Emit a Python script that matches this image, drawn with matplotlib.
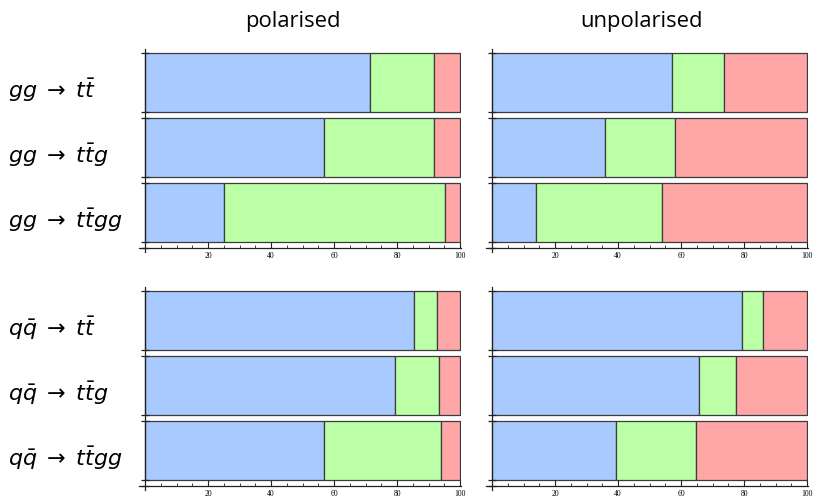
import matplotlib
matplotlib.use('Agg')
import matplotlib.pyplot as plt
from matplotlib.ticker import MultipleLocator
import numpy as np

plt.rcParams['mathtext.fontset'] = 'dejavusans'

# process labels (top to bottom)
gg_labels = [r'$gg\;\rightarrow\;t\bar{t}$', r'$gg\;\rightarrow\;t\bar{t}g$', r'$gg\;\rightarrow\;t\bar{t}gg$']
qq_labels = [r'$q\bar{q}\;\rightarrow\;t\bar{t}$', r'$q\bar{q}\;\rightarrow\;t\bar{t}g$', r'$q\bar{q}\;\rightarrow\;t\bar{t}gg$']
column_titles = ['polarised', 'unpolarised']

# percentages: blue, green, red segments for each process (top to bottom)
pol_gg_blue = [71.4, 56.9, 25.0]
pol_gg_green = [20.3, 34.8, 70.1]
pol_gg_red = [8.3, 8.3, 4.9]

unpol_gg_blue = [57.2, 35.9, 14.1]
unpol_gg_green = [16.5, 22.1, 40.0]
unpol_gg_red = [26.3, 42.0, 45.9]

pol_qq_blue = [85.3, 79.3, 56.7]
pol_qq_green = [7.4, 14.1, 37.2]
pol_qq_red = [7.3, 6.6, 6.1]

unpol_qq_blue = [79.4, 65.6, 39.2]
unpol_qq_green = [6.7, 11.8, 25.7]
unpol_qq_red = [13.9, 22.6, 35.1]

xticks = [20, 40, 60, 80, 100]

colors = ['#a8caff', '#bbffa6', '#ffa7a7']
edge = '#3c3c3c'

W, H = 814, 498
fig = plt.figure(figsize=(W / 100, H / 100), dpi=100)


def add_panel(left_px, top_px, width_px, height_px):
    return fig.add_axes([left_px / W, 1 - (top_px + height_px) / H, width_px / W, height_px / H])


bar_h = 59 / 65
ypos = np.array([2, 1, 0])
x_axis_y = -bar_h / 2 - 6 / 65


def draw(ax, blue, green, red):
    left = np.zeros(3)
    for vals, c in zip([blue, green, red], colors):
        ax.barh(ypos, vals, left=left, height=bar_h, color=c, edgecolor=edge, linewidth=0.9)
        left = left + np.array(vals)
    ax.set_xlim(-2, 100.3)
    ax.set_ylim(-bar_h / 2 - 10 / 65, 2 + bar_h / 2 + 4 / 65)
    for s in ['top', 'right']:
        ax.spines[s].set_visible(False)
    ax.spines['left'].set_position(('data', 0))
    ax.spines['bottom'].set_position(('data', x_axis_y))
    for s in ['left', 'bottom']:
        ax.spines[s].set_linewidth(0.9)
        ax.spines[s].set_color('#222222')
    edges = sorted(np.concatenate([ypos - bar_h / 2, ypos + bar_h / 2, [x_axis_y]]))
    ax.set_yticks(edges)
    ax.set_yticklabels([])
    ax.tick_params(axis='y', direction='inout', length=6, width=0.9, color='#222222')
    ax.set_xticks(xticks)
    ax.xaxis.set_minor_locator(MultipleLocator(5))
    ax.tick_params(axis='x', which='major', direction='in', length=4, width=0.8,
                   labelsize=5.5, pad=3, color='#222222')
    ax.tick_params(axis='x', which='minor', direction='in', length=2.5, width=0.6, color='#222222')
    for t in ax.get_xticklabels():
        t.set_fontfamily('Liberation Serif')


axes_px = {
    (0, 0): (138.7, 49), (0, 1): (485.7, 49),
    (1, 0): (138.7, 287), (1, 1): (485.7, 287),
}
panel_w = 321.3 + 1
panel_h = 203

data = {
    (0, 0): (pol_gg_blue, pol_gg_green, pol_gg_red),
    (0, 1): (unpol_gg_blue, unpol_gg_green, unpol_gg_red),
    (1, 0): (pol_qq_blue, pol_qq_green, pol_qq_red),
    (1, 1): (unpol_qq_blue, unpol_qq_green, unpol_qq_red),
}

title_x = [293, 641]
for i, t in enumerate(column_titles):
    fig.text(title_x[i] / W, 1 - 27 / H, t, ha='center', va='baseline',
             fontsize=15.8, family='Open Sans')

for key, (lx, ty) in axes_px.items():
    ax = add_panel(lx, ty, panel_w, panel_h)
    draw(ax, *data[key])
    if key[1] == 0:
        labs = gg_labels if key[0] == 0 else qq_labels
        for y, lab in zip(ypos, labs):
            ax.annotate(lab, xy=(0, y), xycoords=('figure fraction', 'data'),
                        xytext=(8, -8), textcoords='offset pixels',
                        ha='left', va='center', fontsize=16)

fig.savefig('out.png', dpi=100)
